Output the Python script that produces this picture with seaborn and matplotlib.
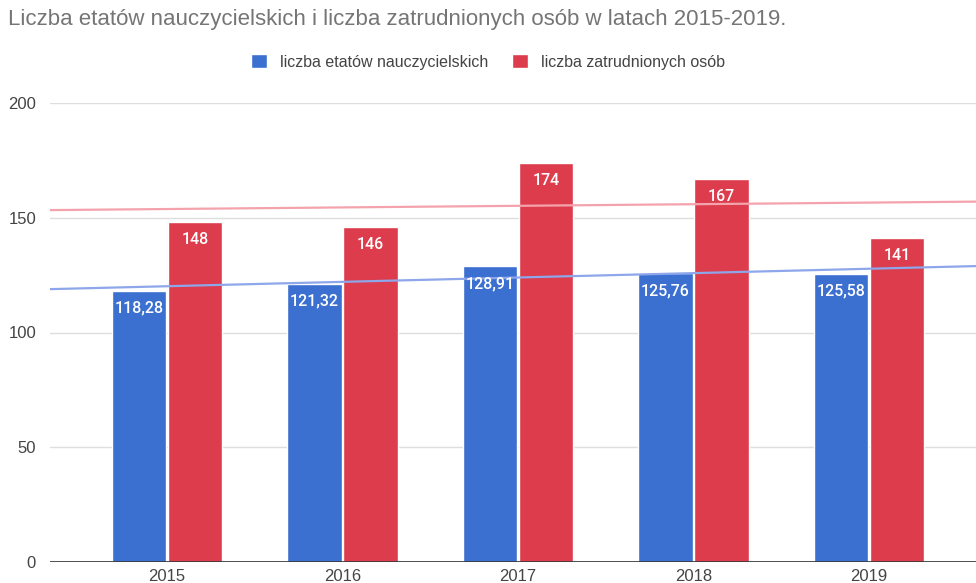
import matplotlib
matplotlib.use("Agg")
import matplotlib.pyplot as plt
import seaborn as sns
import numpy as np
import pandas as pd

years = ["2015", "2016", "2017", "2018", "2019"]
etaty = [118.28, 121.32, 128.91, 125.76, 125.58]
osoby = [148, 146, 174, 167, 141]
series_names = ["liczba etatów nauczycielskich", "liczba zatrudnionych osób"]
title = "Liczba etatów nauczycielskich i liczba zatrudnionych osób w latach 2015-2019."
yticks = [0, 50, 100, 150, 200]

BLUE = "#3b6fd0"
RED = "#dc3c4b"
TREND_BLUE = "#8ea6ea"
TREND_RED = "#f4a3ad"

sns.set_theme(style="white")
plt.rcParams["font.family"] = ["Liberation Sans", "DejaVu Sans"]

df = pd.DataFrame({
    "year": years * 2,
    "value": etaty + osoby,
    "series": [series_names[0]] * len(years) + [series_names[1]] * len(years),
})

fig = plt.figure(figsize=(9.76, 5.83), dpi=100)
ax = fig.add_axes([50 / 976, 1 - 562 / 583, 1 - 50 / 976, (562 - 103) / 583])

sns.barplot(data=df, x="year", y="value", hue="series", palette=[BLUE, RED],
            width=0.64, gap=0.03, ax=ax, legend=True, saturation=1)

# trend lines
xl = (-0.667, 4.61)
xs = np.array(xl)
xi = np.arange(len(years))
for vals, col in [(etaty, TREND_BLUE), (osoby, TREND_RED)]:
    k, b = np.polyfit(xi, vals, 1)
    ax.plot(xs, k * xs + b, color=col, lw=1.6, zorder=1.5)

# bar labels
for cont, vals in zip(ax.containers, [etaty, osoby]):
    labels = [f"{v:.2f}".replace(".", ",") if isinstance(v, float) else str(v) for v in vals]
    ax.bar_label(cont, labels=labels, padding=-18, color="white", fontsize=11.5,
                 family=["Roboto", "DejaVu Sans"], fontweight="medium")

ax.set_xlim(*xl)
ax.set_ylim(0, 200)
ax.set_yticks(yticks)
ax.set_yticklabels([str(t) for t in yticks])
ax.yaxis.grid(True, color="#dedede", lw=1)
ax.set_axisbelow(True)
for s in ax.spines.values():
    s.set_visible(False)
ax.axhline(0, color="#333333", lw=1.2, zorder=3)
ax.tick_params(axis="both", length=0, labelsize=12, labelcolor="#444444")
ax.tick_params(axis="x", pad=5)
ax.tick_params(axis="y", pad=10)
ax.set_xlabel("")
ax.set_ylabel("")

handles, labs = ax.get_legend_handles_labels()
ax.legend(handles, labs, loc="center", bbox_to_anchor=(0.5, 1 - 62 / 583),
          bbox_transform=fig.transFigure, ncol=2, frameon=False, fontsize=11.5,
          handlelength=1.0, handleheight=1.0, columnspacing=1.5, handletextpad=0.8,
          labelcolor="#444444")

fig.text(8 / 976, 1 - 20 / 583, title, fontsize=16, color="#757575", va="center", ha="left")

fig.savefig("out.png", dpi=100)
